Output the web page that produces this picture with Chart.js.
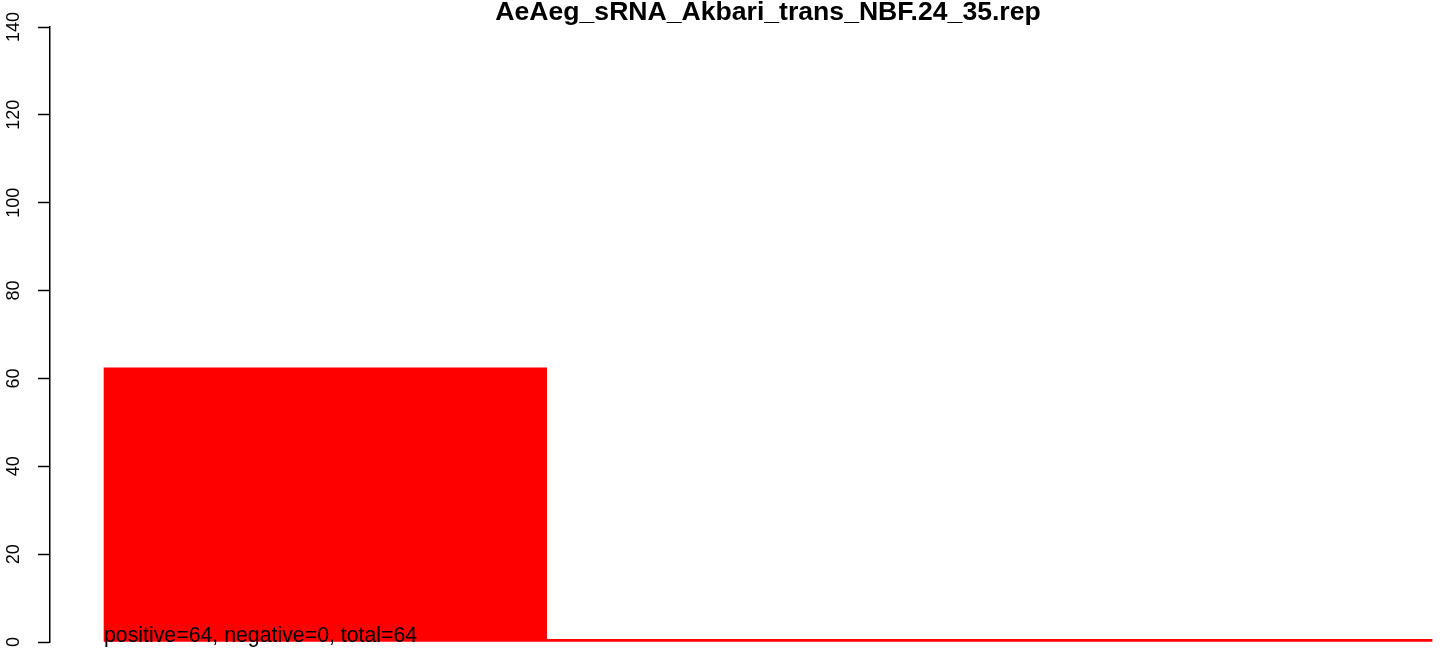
<!DOCTYPE html>
<html>
<head>
<meta charset="utf-8">
<script src="https://cdn.jsdelivr.net/npm/chart.js@4/dist/chart.umd.min.js"></script>
<style>
  html, body { margin: 0; padding: 0; background: #fff; }
  #wrap { width: 1444px; height: 655px; }
</style>
</head>
<body>
<div id="wrap"><canvas id="barChart"></canvas></div>
<script>
const titleText = 'AeAeg_sRNA_Akbari_trans_NBF.24_35.rep'
const noteText = 'positive=64, negative=0, total=64'
// bar centres (R barplot units, width 1, space 0) and heights
const barPositions = [0.5, 1.5, 2.5]
const barValues = [62.4, 0.6, 0.6]
const yTicks = [0, 20, 40, 60, 80, 100, 120, 140]

const fontFamily = '"Liberation Sans", Arial, Helvetica, sans-serif'

// title + note text drawn in data space, like R's title()/text()
const rText = {
  id: 'rText',
  afterDraw(chart) {
    const ctx = chart.ctx
    const xs = chart.scales.x, ys = chart.scales.y
    ctx.save()
    ctx.fillStyle = '#000'
    ctx.font = 'bold 26.6px ' + fontFamily
    ctx.textAlign = 'center'
    ctx.textBaseline = 'alphabetic'
    ctx.fillText(titleText, xs.getPixelForValue(1.5), 20)
    ctx.font = '21.3px ' + fontFamily
    ctx.textAlign = 'left'
    ctx.fillText(noteText, xs.getPixelForValue(0), ys.getPixelForValue(0))
    ctx.restore()
  }
}

new Chart('barChart', {
  type: 'bar',
  data: {
    datasets: [{
      data: barPositions.map((p, i) => ({ x: p, y: barValues[i] })),
      backgroundColor: '#ff0000',
      borderWidth: 0,
      barPercentage: 1,
      categoryPercentage: 1
    }]
  },
  options: {
    responsive: true,
    maintainAspectRatio: false,
    animation: false,
    layout: { padding: { top: 27, bottom: 13, left: 0, right: 0 } },
    plugins: { legend: { display: false }, tooltip: { enabled: false } },
    scales: {
      x: {
        type: 'linear',
        display: false,
        offset: false,
        min: -0.122,
        max: 3.027,
        afterBuildTicks: s => { s.ticks = barPositions.map(v => ({ value: v })) }
      },
      y: {
        min: 0,
        max: 140,
        afterFit: s => { s.width = 50; s.paddingTop = 0; s.paddingBottom = 0 },
        afterBuildTicks: s => { s.ticks = yTicks.map(v => ({ value: v })) },
        border: { display: true, color: '#000', width: 1.5 },
        grid: {
          drawOnChartArea: false,
          drawTicks: true,
          tickLength: 12,
          tickColor: '#000',
          tickWidth: 1.5
        },
        ticks: {
          color: '#000',
          font: { family: fontFamily, size: 18 },
          minRotation: 90,
          maxRotation: 90,
          crossAlign: 'center',
          padding: 9
        }
      }
    }
  },
  plugins: [rText]
})
</script>
</body>
</html>
